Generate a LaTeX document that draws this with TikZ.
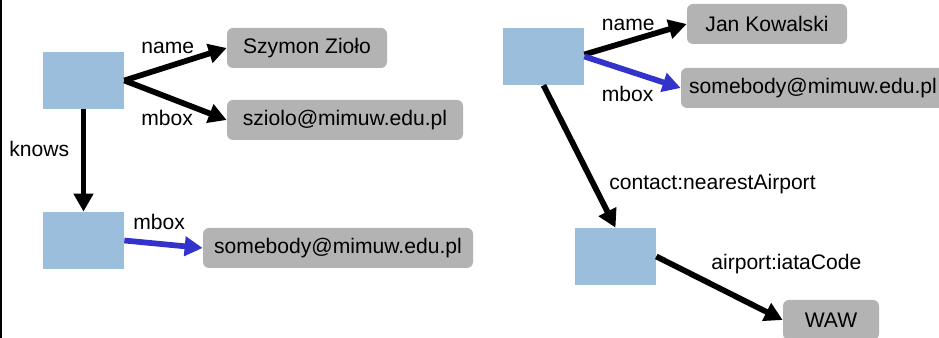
\documentclass[tikz,border=0pt]{standalone}
\usepackage{fontspec}
\setmainfont{Liberation Sans}
\usetikzlibrary{arrows.meta}
\definecolor{resblue}{RGB}{155,190,220}
\definecolor{litgrey}{RGB}{179,179,179}
\definecolor{mboxblue}{RGB}{51,51,204}
\tikzset{
  res/.style={fill=resblue, draw=none, minimum width=1.62cm, minimum height=1.14cm, inner sep=0pt},
  lit/.style={fill=litgrey, draw=none, rounded corners=1.2mm, minimum height=0.8cm, inner sep=0pt, font=\fontsize{12}{14}\selectfont},
  prop/.style={anchor=base west, inner sep=0pt, font=\fontsize{12}{14}\selectfont},
  edge/.style={line width=0.115cm, -{Triangle[length=0.36cm, width=0.38cm]}}
}
\begin{document}
\begin{tikzpicture}
    \useasboundingbox (0,0) rectangle (18.78,6.76);
    % lewa krawedz
    \draw[line width=0.045cm] (0.02,0) -- (0.02,6.76);

    % lewy graf: wezly
    \node[res] (szymon) at (1.67,5.15) {};
    \node[res] (anon1) at (1.67,1.95) {};
    \node[lit, minimum width=3.2cm] (nameL) at (6.14,5.80) {Szymon Zioło};
    \node[lit, minimum width=4.72cm] (mboxL) at (6.90,4.36) {sziolo@mimuw.edu.pl};
    \node[lit, minimum width=5.4cm] (mboxA) at (6.76,1.80) {somebody@mimuw.edu.pl};

    % prawy graf: wezly
    \node[res] (jan) at (10.87,5.63) {};
    \node[res] (airport) at (12.31,1.63) {};
    \node[lit, minimum width=3.2cm] (nameR) at (15.34,6.28) {Jan Kowalski};
    \node[lit, minimum width=5.28cm] (mboxR) at (16.26,5.00) {somebody@mimuw.edu.pl};
    \node[lit, minimum width=1.92cm] (waw) at (16.62,0.36) {WAW};

    % etykiety krawedzi
    \node[prop] (lname1) at (2.82,5.68) {name};
    \node[prop] (lmbox1) at (2.82,4.24) {mbox};
    \node[prop] (lknows) at (0.18,3.62) {knows};
    \node[prop] (lmbox2) at (2.66,2.16) {mbox};
    \node[prop] (lname2) at (12.03,6.14) {name};
    \node[prop] (lmbox3) at (12.03,4.72) {mbox};
    \node[prop] (lcontact) at (12.18,2.96) {contact:nearestAirport};
    \node[prop] (liata) at (14.22,1.36) {airport:iataCode};

    % krawedzie
    \draw[edge] (szymon.east) -- (nameL.west);
    \draw[edge] (szymon.east) -- (mboxL.west);
    \draw[edge] (szymon.south) -- (anon1.north);
    \draw[edge, mboxblue] (anon1.east) -- (mboxA.west);
    \draw[edge] ([yshift=0.04cm]jan.east) -- (nameR.west);
    \draw[edge, mboxblue] (jan.east) -- (mboxR.west);
    \draw[edge] (jan.south) -- (airport.north);
    \draw[edge] (airport.east) -- (waw.west);
\end{tikzpicture}
\end{document}
